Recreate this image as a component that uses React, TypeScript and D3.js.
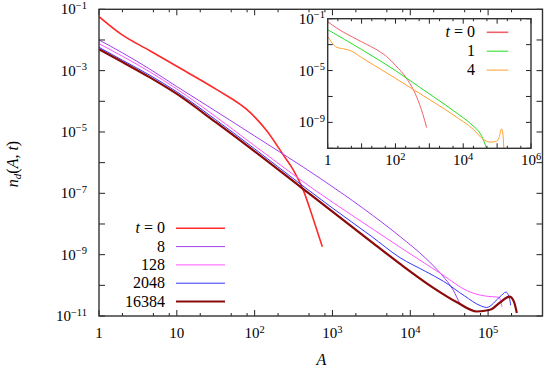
import React from 'react';
import * as d3 from 'd3';

type P = [number, number];

// ---- main plot series: [A, n_d] ----
const t0: P[] = [[1, 5.75e-2], [1.9, 1.58e-2], [4.5, 4.47e-3], [12.1, 1.05e-3], [32.6, 2.4e-4], [87.3, 4.37e-5], [143, 1.1e-5], [234, 1.78e-6], [316, 5.62e-7], [419, 1.32e-7], [569, 1.41e-8], [741, 1.82e-9]];
const t8: P[] = [[1, 1.0e-2], [2, 3.8e-3], [4.5, 1.12e-3], [10, 3.02e-4], [31.6, 4.79e-5], [100, 7.41e-6], [693, 3.09e-7], [2512, 3.16e-8], [7400, 3.89e-9], [15800, 7.59e-10], [25400, 2.19e-10], [35500, 7.08e-11], [43650, 2.4e-11]];
const t128: P[] = [[1, 7.59e-3], [2, 2.95e-3], [4.5, 9.12e-4], [10, 2.51e-4], [31.6, 3.16e-5], [100, 3.55e-6], [569, 1.38e-7], [2000, 1.58e-8], [7400, 1.74e-9], [25400, 2.29e-10], [53200, 6.76e-11], [79400, 4.79e-11], [100000, 4.37e-11], [138000, 4.07e-11], [151000, 2.0e-11]];
const t2048: P[] = [[1, 5.75e-3], [2, 2.19e-3], [4.5, 7.08e-4], [10, 2.04e-4], [31.6, 2.51e-5], [100, 2.82e-6], [384, 2.04e-7], [1000, 3.31e-8], [3162, 3.98e-9], [7400, 7.94e-10], [15800, 2.82e-10], [26700, 1.35e-10], [50100, 4.47e-11], [78900, 2.19e-11], [95500, 1.9e-11], [142600, 4.27e-11], [170000, 6.03e-11], [192000, 2.95e-11], [195000, 2.24e-11]];
const t16384: P[] = [[1, 5.01e-3], [2, 1.91e-3], [4.5, 6.03e-4], [10, 1.74e-4], [31.6, 2.09e-5], [100, 2.34e-6], [384, 1.66e-7], [1000, 2.51e-8], [3162, 2.63e-9], [7400, 5.0e-10], [19800, 8.3e-11], [39800, 2.8e-11], [71600, 1.4e-11], [106000, 1.6e-11], [141000, 2.7e-11], [188000, 4.3e-11], [214000, 3.0e-11], [234000, 1.26e-11]];

// ---- inset series ----
const in0: P[] = [[1, 5.89e-2], [1.84, 1.91e-2], [2.88, 9.33e-3], [10, 1.66e-3], [34.7, 2.82e-4], [55, 1.2e-4], [100, 2.51e-5], [209, 2.63e-6], [417, 1.0e-7], [631, 5.01e-9], [832, 3.98e-10]];
const in1: P[] = [[1, 1.41e-2], [3.16, 2.51e-3], [10, 4.17e-4], [100, 1.0e-5], [525, 5.01e-7], [5130, 7.94e-9], [20000, 5.01e-10], [31600, 1.41e-10], [49000, 1.0e-11]];
const in4: P[] = [[1, 4.17e-3], [1.84, 6.31e-4], [2.88, 4.79e-4], [4.57, 3.55e-4], [10, 1.0e-4], [100, 2.51e-6], [525, 1.66e-7], [5130, 3.72e-9], [20000, 2.82e-10], [38900, 5.01e-11], [61700, 3.02e-11], [95500, 3.31e-11], [115000, 7.08e-11], [135000, 3.16e-10], [148000, 1.26e-10], [158000, 1.0e-11]];

const mainSeries = [t0, t8, t128, t2048, t16384];
const mainLabels = ['t = 0', '8', '128', '2048', '16384'];
const mainColors = ['#ff2a2a', '#a040ee', '#ff55ff', '#3535ff', '#8b0a0a'];
const mainWidths = [1.6, 1, 1, 1, 2.2];

const insetSeries = [in0, in1, in4];
const insetLabels = ['t = 0', '1', '4'];
const insetColors = ['#f0606a', '#22e022', '#ffa030'];

const mainXLabels: [number, string, string][] = [[1, '1', ''], [10, '10', ''], [1e2, '10', '2'], [1e3, '10', '3'], [1e4, '10', '4'], [1e5, '10', '5']];
const mainYLabels: [number, string][] = [[1e-1, '−1'], [1e-3, '−3'], [1e-5, '−5'], [1e-7, '−7'], [1e-9, '−9'], [1e-11, '−11']];
const insetXLabels: [number, string, string][] = [[1, '1', ''], [1e2, '10', '2'], [1e4, '10', '4'], [1e6, '10', '6']];
const insetYLabels: [number, string][] = [[1e-1, '−1'], [1e-5, '−5'], [1e-9, '−9']];

const FONT = '"Liberation Serif", "DejaVu Serif", serif';

const W = 545, H = 367;
const M = { left: 99, right: 542.5, top: 9.3, bottom: 316 };
const IN = { left: 327.7, right: 531, top: 18.7, bottom: 148.3 };

function Label({ x, y, base, sup, anchor }: { x: number; y: number; base: string; sup: string; anchor: string }) {
  return (
    <text x={x} y={y} textAnchor={anchor} fontFamily={FONT} fontSize={15} fill="#000">
      <tspan>{base}</tspan>
      {sup ? <tspan dy={-5.5} fontSize={10.5}>{sup}</tspan> : null}
    </text>
  );
}

function Frame({ x, y, xMaxExp, xDomainMax, yExps, majorX, box, tickLen }: any) {
  const els: any[] = [];
  const { left, right, top, bottom } = box;
  for (let k = 0; k <= xMaxExp; k++) {
    const base = Math.pow(10, k);
    const vals: [number, number][] = [[base, tickLen]];
    for (const m of majorX) vals.push([m * base, tickLen / 2]);
    for (const [v, len] of vals) {
      if (v > xDomainMax * 1.0001) continue;
      const px = x(v);
      els.push(<line key={`xb${v}`} x1={px} x2={px} y1={bottom} y2={bottom - len} stroke="#222" strokeWidth={1} />);
      els.push(<line key={`xt${v}`} x1={px} x2={px} y1={top} y2={top + len} stroke="#222" strokeWidth={1} />);
    }
  }
  for (const e of yExps) {
    const py = y(Math.pow(10, e));
    els.push(<line key={`yl${e}`} x1={left} x2={left + tickLen} y1={py} y2={py} stroke="#222" strokeWidth={1} />);
    els.push(<line key={`yr${e}`} x1={right} x2={right - tickLen} y1={py} y2={py} stroke="#222" strokeWidth={1} />);
  }
  return (
    <g>
      {els}
      <rect x={left} y={top} width={right - left} height={bottom - top} fill="none" stroke="#333" strokeWidth={1.4} />
    </g>
  );
}

export default function App() {
  const xMain = d3.scaleLog().domain([1, 5e5]).range([M.left, M.right]);
  const yMain = d3.scaleLog().domain([1e-11, 1e-1]).range([M.bottom, M.top]);
  const xIn = d3.scaleLog().domain([1, 1e6]).range([IN.left, IN.right]);
  const yIn = d3.scaleLog().domain([1e-11, 1e-1]).range([IN.bottom, IN.top]);

  const lineMain = d3.line<P>().x(d => xMain(d[0])).y(d => yMain(d[1])).curve(d3.curveMonotoneX);
  const lineIn = d3.line<P>().x(d => xIn(d[0])).y(d => yIn(d[1])).curve(d3.curveMonotoneX);

  const mainYExps = d3.range(-11, 0);
  const inYExps = [-11, -9, -7, -5, -3, -1];

  return (
    <svg width={W} height={H} style={{ position: 'absolute', left: 0, top: 0, background: '#fff' }}>
      <defs>
        <clipPath id="clipMain"><rect x={M.left} y={M.top} width={M.right - M.left} height={M.bottom - M.top} /></clipPath>
        <clipPath id="clipIn"><rect x={IN.left} y={IN.top} width={IN.right - IN.left} height={IN.bottom - IN.top} /></clipPath>
      </defs>

      <g clipPath="url(#clipMain)">
        {mainSeries.map((s, i) => (
          <path key={i} d={lineMain(s) || ''} fill="none" stroke={mainColors[i]} strokeWidth={mainWidths[i]} />
        ))}
      </g>

      {mainLabels.map((lab, i) => {
        const yy = 228.3 + i * 18.3;
        return (
          <g key={lab}>
            <text x={165} y={yy + 5} textAnchor="end" fontFamily={FONT} fontSize={16}>
              {i === 0 ? (<><tspan fontStyle="italic">t</tspan><tspan> = 0</tspan></>) : lab}
            </text>
            <line x1={176} x2={225} y1={yy} y2={yy} stroke={mainColors[i]} strokeWidth={mainWidths[i]} />
          </g>
        );
      })}

      <Frame x={xMain} y={yMain} xMaxExp={5} xDomainMax={5e5} yExps={mainYExps} majorX={[2, 5, 8]} box={M} tickLen={6} />

      {mainXLabels.map(([v, b, s]) => (
        <Label key={v} x={xMain(v)} y={338} base={b} sup={s} anchor="middle" />
      ))}
      {mainYLabels.map(([v, s]) => (
        <Label key={v} x={87} y={yMain(v) + 5} base="10" sup={s} anchor="end" />
      ))}

      <text x={321.5} y={365} textAnchor="middle" fontFamily={FONT} fontSize={16} fontStyle="italic">A</text>
      <text transform="translate(18,164) rotate(-90)" textAnchor="middle" fontFamily={FONT} fontSize={16}>
        <tspan fontStyle="italic">n</tspan>
        <tspan fontStyle="italic" fontSize={11} dy={3}>d</tspan>
        <tspan dy={-3}>(</tspan>
        <tspan fontStyle="italic">A</tspan>
        <tspan>, </tspan>
        <tspan fontStyle="italic">t</tspan>
        <tspan>)</tspan>
      </text>

      {/* inset */}
      <rect x={IN.left} y={IN.top} width={IN.right - IN.left} height={IN.bottom - IN.top} fill="#fff" />
      <g clipPath="url(#clipIn)">
        {insetSeries.map((s, i) => (
          <path key={i} d={lineIn(s) || ''} fill="none" stroke={insetColors[i]} strokeWidth={1} />
        ))}
      </g>
      {insetLabels.map((lab, i) => {
        const yy = 32.3 + i * 18.9;
        return (
          <g key={lab}>
            <text x={475} y={yy + 5} textAnchor="end" fontFamily={FONT} fontSize={16}>
              {i === 0 ? (<><tspan fontStyle="italic">t</tspan><tspan> = 0</tspan></>) : lab}
            </text>
            <line x1={486.7} x2={508.3} y1={yy} y2={yy} stroke={insetColors[i]} strokeWidth={i === 0 ? 1.6 : 1} />
          </g>
        );
      })}
      <Frame x={xIn} y={yIn} xMaxExp={6} xDomainMax={1e6} yExps={inYExps} majorX={[2, 5]} box={IN} tickLen={5} />
      {insetXLabels.map(([v, b, s]) => (
        <Label key={v} x={xIn(v)} y={165} base={b} sup={s} anchor="middle" />
      ))}
      {insetYLabels.map(([v, s]) => (
        <Label key={v} x={325} y={yIn(v) + 5} base="10" sup={s} anchor="end" />
      ))}
    </svg>
  );
}
